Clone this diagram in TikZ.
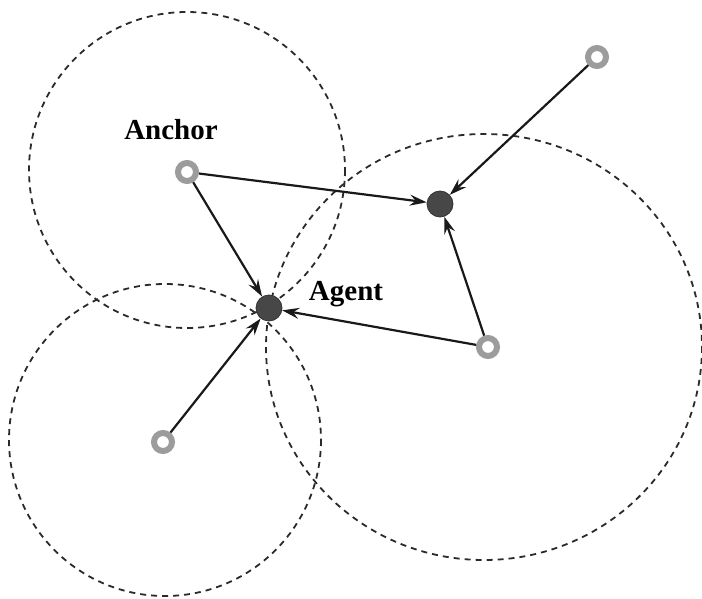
\documentclass[tikz,border=0pt]{standalone}
\usepackage{fontspec}
\setmainfont{Liberation Serif}
\usetikzlibrary{arrows.meta}
\definecolor{ringgray}{HTML}{9C9C9C}
\definecolor{agentgray}{HTML}{474747}
\definecolor{dashc}{HTML}{2A2A2A}
\tikzset{
  anchorpt/.style={circle, draw=ringgray, line width=6pt, fill=white, minimum size=18pt, inner sep=0pt, outer sep=3pt},
  agentpt/.style={circle, draw=black!80, line width=0.8pt, fill=agentgray, minimum size=26pt, inner sep=0pt, outer sep=0.4pt},
  rangecirc/.style={draw=dashc, line width=1.8pt, dash pattern=on 6pt off 5pt},
  link/.style={draw=black!90, line width=2.2pt, -{Stealth[length=17pt, width=11pt, inset=6pt]}},
  lbl/.style={font=\fontsize{29}{32}\selectfont\bfseries, inner sep=0pt}
}
\begin{document}
\begin{tikzpicture}[x=1pt, y=-1pt]
\useasboundingbox (0,0) rectangle (702,599);
% range circles
\draw[rangecirc] (187,170) circle (158);
\draw[rangecirc] (165,440) circle (156);
\draw[rangecirc] (484,347) ellipse (218 and 213);
% nodes
\node[anchorpt] (a1) at (187,172) {};
\node[anchorpt] (a2) at (597,57) {};
\node[anchorpt] (a3) at (488,347) {};
\node[anchorpt] (a4) at (163,442) {};
\node[agentpt] (g1) at (269,308) {};
\node[agentpt] (g2) at (440,204) {};
% links
\draw[link] (a1) -- (g2);
\draw[link] (a1) -- (g1);
\draw[link] (a2) -- (g2);
\draw[link] (a3) -- (g2);
\draw[link] (a3) -- (g1);
\draw[link] (a4) -- (g1);
% labels
\node[lbl] (lanchor) at (171,130) {Anchor};
\node[lbl] (lagent) at (346,294) {Agent};
\end{tikzpicture}
\end{document}
